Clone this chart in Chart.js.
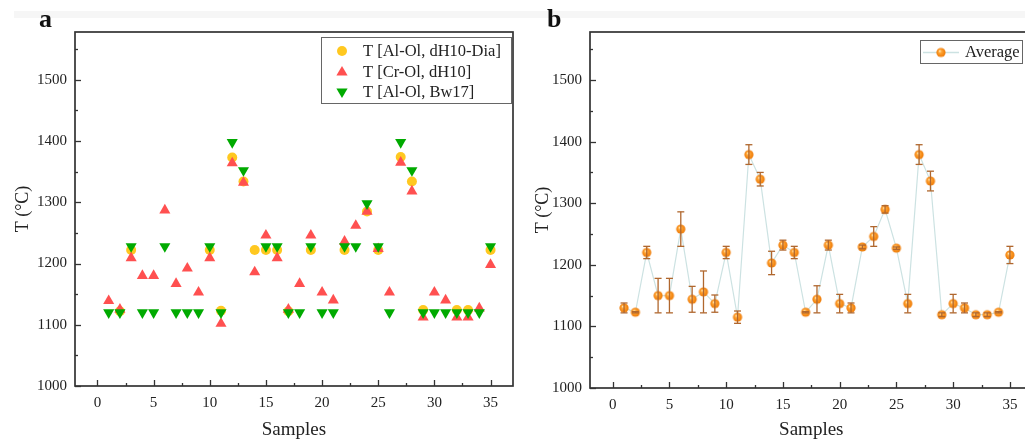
<!DOCTYPE html>
<html>
<head>
<meta charset="utf-8">
<script src="https://cdn.jsdelivr.net/npm/chart.js@4.4.0/dist/chart.umd.min.js"></script>
<style>
html,body{margin:0;padding:0;background:#fff;overflow:hidden;width:1025px;height:441px;}
#strip{position:absolute;left:14px;top:11px;height:7px;right:0;background:#f6f6f6;}
.panel{position:absolute;font-family:"Liberation Serif","Times New Roman",serif;font-weight:bold;font-size:26px;color:#111;line-height:1;}
canvas{position:absolute;top:0;}
</style>
</head>
<body>
<div id="strip"></div>
<canvas id="ca" width="520" height="441" style="left:0px"></canvas>
<canvas id="cb" width="520" height="441" style="left:520px"></canvas>
<div class="panel" style="left:39px;top:6px;">a</div>
<div class="panel" style="left:547px;top:6px;">b</div>
<script>
// ---------- data ----------
const samples = [1,2,3,4,5,6,7,8,9,10,11,12,13,14,15,16,17,18,19,20,21,22,23,24,25,26,27,28,29,30,31,32,33,34,35];
const tAlDia = [null,1122,1222,null,null,null,null,null,null,1222,1123,1373,1334,1222,1222,1222,1122,null,1222,null,null,1222,null,1285,1222,null,1374,1334,1124,null,null,1124,1124,null,1222];
const tCr    = [1139,1125,1209,1180,1180,1287,1167,1192,1153,1209,1102,1364,1332,1186,1246,1209,1125,1167,1246,1153,1140,1236,1262,1285,1224,1153,1365,1318,1112,1153,1140,1112,1112,1127,1198];
const tBw17  = [1120,1120,1228,1120,1120,1228,1120,1120,1120,1228,1120,1398,1352,null,1228,1228,1120,1120,1228,1120,1120,1228,1228,1298,1228,1120,1398,1352,1120,1120,1120,1120,1120,1120,1228];
const avgT   = [1130,1123,1220,1150,1150,1258,1144,1156,1137,1220,1115,1379,1339,1203,1232,1220,1123,1144,1232,1137,1130,1229,1246,1290,1227,1137,1379,1336,1119,1137,1130,1119,1119,1123,1216];
const errT   = [8,1,10,28,28,28,21,34,14,10,10,16,11,19,8,10,1,22,8,15,8,3,16,6,2,15,16,16,3,15,8,3,3,1,14];
const xTicks = [0,5,10,15,20,25,30,35];
const xMinor = [2.5,7.5,12.5,17.5,22.5,27.5,32.5];
const yTicks = [1000,1100,1200,1300,1400,1500];
const yMinor = [1050,1150,1250,1350,1450,1550];
const legendA = ['T [Al-Ol, dH10-Dia]','T [Cr-Ol, dH10]','T [Al-Ol, Bw17]'];
const legendB = ['Average'];
const xTitle = 'Samples';
const yTitle = 'T (°C)';

// ---------- styles ----------
const SERIF = '"Liberation Serif","Times New Roman",serif';
const cYel = '#FFC820', cRed = '#FF5050', cGrn = '#00AA00';
const cLine = '#CCE2E2', cErr = '#B0672E';

function toXY(arr){ return samples.map((s,i)=>({x:s,y:arr[i]})); }

function sphere(r){
  const s = Math.ceil(r*2+2);
  const c = document.createElement('canvas'); c.width = c.height = s;
  const g = c.getContext('2d'); const cx = s/2;
  const grd = g.createRadialGradient(cx-r*0.3, cx-r*0.35, r*0.05, cx, cx, r);
  grd.addColorStop(0,'#FFE7B0'); grd.addColorStop(0.35,'#FFA232'); grd.addColorStop(1,'#EE7A05');
  g.fillStyle = grd; g.beginPath(); g.arc(cx,cx,r,0,Math.PI*2); g.fill();
  return c;
}
const ball = sphere(4.6);

function line(ctx,x1,y1,x2,y2){ ctx.beginPath(); ctx.moveTo(x1,y1); ctx.lineTo(x2,y2); ctx.stroke(); }

const framePlugin = {
  id:'frameTicks',
  afterDraw(chart){
    const {ctx, chartArea:a, scales:{x,y}} = chart;
    ctx.save();
    ctx.strokeStyle = '#333'; ctx.lineWidth = 1.7;
    ctx.strokeRect(a.left, a.top, a.right-a.left, a.bottom-a.top);
    ctx.lineWidth = 1.3;
    xTicks.forEach(v=>{ const p = Math.round(x.getPixelForValue(v))+0.5; line(ctx,p,a.bottom,p,a.bottom-6); });
    xMinor.forEach(v=>{ const p = Math.round(x.getPixelForValue(v))+0.5; line(ctx,p,a.bottom,p,a.bottom-3); });
    yTicks.forEach(v=>{ const p = Math.round(y.getPixelForValue(v))+0.5; line(ctx,a.left,p,a.left+6,p); });
    yMinor.forEach(v=>{ const p = Math.round(y.getPixelForValue(v))+0.5; line(ctx,a.left,p,a.left+3,p); });
    ctx.restore();
  }
};

function baseOptions(yWidth, xHeight, padRight){
  return {
    responsive:false, animation:false, devicePixelRatio:1,
    layout:{padding:{left:0, top:32, right:padRight, bottom:0}},
    plugins:{legend:{display:false}, tooltip:{enabled:false}},
    scales:{
      x:{type:'linear', min:-2, max:37,
        grid:{display:false}, border:{display:false},
        afterBuildTicks:s=>{ s.ticks = xTicks.map(v=>({value:v})); },
        afterFit:s=>{ s.height = xHeight; },
        ticks:{autoSkip:false, maxRotation:0, padding:0, color:'#222', font:{family:SERIF, size:15}, callback:v=>String(v)},
        title:{display:true, text:xTitle, color:'#222', font:{family:SERIF, size:19}, padding:{top:0,bottom:0}}
      },
      y:{type:'linear', min:1000, max:1578,
        grid:{display:false}, border:{display:false},
        afterBuildTicks:s=>{ s.ticks = yTicks.map(v=>({value:v})); },
        afterFit:s=>{ s.width = yWidth; },
        ticks:{autoSkip:false, padding:0, color:'#222', font:{family:SERIF, size:15}, callback:v=>String(v)},
        title:{display:true, text:yTitle, color:'#222', font:{family:SERIF, size:18}, padding:{top:12,bottom:0}}
      }
    }
  };
}

// ---------- chart a ----------
const legendPluginA = {
  id:'legA',
  afterDraw(chart){
    const ctx = chart.ctx;
    ctx.save();
    ctx.fillStyle = '#fff'; ctx.fillRect(321.5,37.5,190,66);
    ctx.strokeStyle = '#666'; ctx.lineWidth = 1; ctx.strokeRect(321.5,37.5,190,66);
    const rows = [51,72,92], mx = 342;
    ctx.fillStyle = cYel; ctx.beginPath(); ctx.arc(mx,rows[0],5,0,Math.PI*2); ctx.fill();
    ctx.fillStyle = cRed; ctx.beginPath();
    ctx.moveTo(mx,rows[1]-6); ctx.lineTo(mx+5.6,rows[1]+3.5); ctx.lineTo(mx-5.6,rows[1]+3.5); ctx.closePath(); ctx.fill();
    ctx.fillStyle = cGrn; ctx.beginPath();
    ctx.moveTo(mx,rows[2]+6); ctx.lineTo(mx+5.6,rows[2]-3.5); ctx.lineTo(mx-5.6,rows[2]-3.5); ctx.closePath(); ctx.fill();
    ctx.fillStyle = '#222'; ctx.font = '16.5px '+SERIF; ctx.textBaseline = 'middle'; ctx.textAlign = 'left';
    legendA.forEach((t,i)=>ctx.fillText(t,363,rows[i]+1));
    ctx.restore();
  }
};

const optA = baseOptions(75, 55, 7);
new Chart(document.getElementById('ca'), {
  type:'scatter',
  data:{datasets:[
    {label:legendA[0], data:toXY(tAlDia), pointStyle:'circle', pointRadius:5, backgroundColor:cYel, borderWidth:0, order:2},
    {label:legendA[1], data:toXY(tCr), pointStyle:'triangle', pointRadius:6.4, backgroundColor:cRed, borderWidth:0, order:1},
    {label:legendA[2], data:toXY(tBw17), pointStyle:'triangle', rotation:180, pointRadius:6.4, backgroundColor:cGrn, borderWidth:0, order:0}
  ]},
  options:optA,
  plugins:[framePlugin, legendPluginA]
});

// ---------- chart b ----------
const errPlugin = {
  id:'errBars',
  afterDatasetsDraw(chart){
    const {ctx, scales:{x,y}} = chart;
    ctx.save(); ctx.strokeStyle = cErr; ctx.lineWidth = 1.3;
    samples.forEach((s,i)=>{
      const px = x.getPixelForValue(s);
      const yt = y.getPixelForValue(avgT[i]+errT[i]);
      const yb = y.getPixelForValue(avgT[i]-errT[i]);
      line(ctx,px,yt,px,yb);
      line(ctx,px-3.5,yt,px+3.5,yt);
      line(ctx,px-3.5,yb,px+3.5,yb);
    });
    ctx.restore();
  }
};
const legendPluginB = {
  id:'legB',
  afterDraw(chart){
    const ctx = chart.ctx; const ox = 520;
    ctx.save();
    ctx.fillStyle = '#fff'; ctx.fillRect(920.5-ox,40.5,102,23);
    ctx.strokeStyle = '#666'; ctx.lineWidth = 1; ctx.strokeRect(920.5-ox,40.5,102,23);
    ctx.strokeStyle = cLine; ctx.lineWidth = 1.3; line(ctx,923-ox,52.5,959-ox,52.5);
    ctx.drawImage(ball, 941-ox-ball.width/2, 52.5-ball.height/2);
    ctx.fillStyle = '#222'; ctx.font = '16.5px '+SERIF; ctx.textBaseline = 'middle'; ctx.textAlign = 'left';
    ctx.fillText(legendB[0], 965-ox, 53);
    ctx.restore();
  }
};
const optB = baseOptions(70, 53, 7.4);
new Chart(document.getElementById('cb'), {
  type:'scatter',
  data:{datasets:[
    {label:legendB[0], data:toXY(avgT), showLine:true, borderColor:cLine, borderWidth:1.2,
     pointStyle:ball, pointRadius:4.6, backgroundColor:'#FFA232'}
  ]},
  options:optB,
  plugins:[errPlugin, framePlugin, legendPluginB]
});
</script>
</body>
</html>
